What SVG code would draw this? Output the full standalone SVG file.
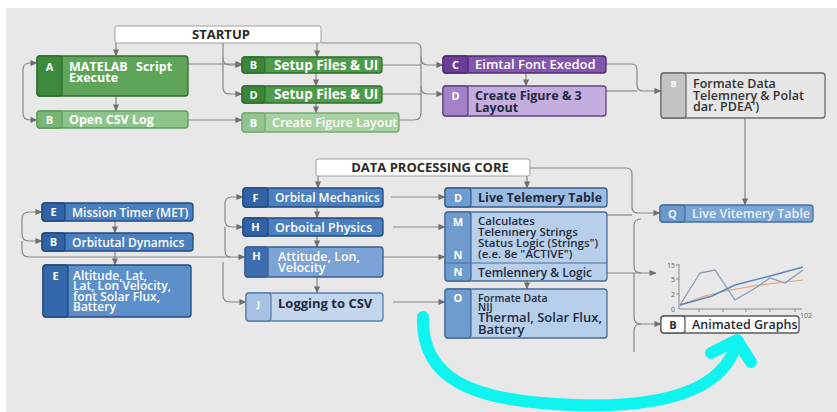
<svg xmlns="http://www.w3.org/2000/svg" width="837" height="412" viewBox="0 0 837 412">
<defs>
<marker id="ar" viewBox="0 0 8 8" refX="7.5" refY="4" markerWidth="7" markerHeight="7" markerUnits="userSpaceOnUse" orient="auto">
<path d="M0 0.5 L8 4 L0 7.5 Z" fill="#6f6f6f"/>
</marker>
<style>
text{font-family:"Open Sans","Liberation Sans",sans-serif;font-weight:600;font-size:12px}
.w{fill:#ffffff}
.d{fill:#1f2a3a}
.lt{fill:#e9f0fa}
.gt{font-size:12.5px;font-weight:700}
.bl{text-anchor:middle;font-weight:700;font-size:11px}
.hd{text-anchor:middle;font-weight:700;font-size:13px;fill:#2a2a2a}
.c path{fill:none;stroke:#878787;stroke-width:1.2}
.a{marker-end:url(#ar)}
.hdr{fill:#ffffff;stroke:#a0a0a0;stroke-width:1}
.g1 .body{fill:#5ea55a;stroke:#2f6e2e}.g1 .bdg{fill:#3e8a3d;stroke:#2f6e2e}
.g2 .body{fill:#8cc489;stroke:#5f9a5c}.g2 .bdg{fill:#79b676;stroke:#5f9a5c}
.g3 .body{fill:#4e9c4a;stroke:#2f6e2e}.g3 .bdg{fill:#3b8538;stroke:#2f6e2e}
.g4 .body{fill:#a6d2a2;stroke:#7aaa76}.g4 .bdg{fill:#93c68f;stroke:#7aaa76}
.p1 .body{fill:#8356ae;stroke:#4f2a74}.p1 .bdg{fill:#6a3d96;stroke:#4f2a74}
.p2 .body{fill:#c5ade0;stroke:#5e4580}.p2 .bdg{fill:#a582c8;stroke:#5e4580}
.gr .body{fill:#e6e6e6;stroke:#6e6e6e}.gr .bdg{fill:#c4c4c4;stroke:#6e6e6e}
.b1 .body{fill:#4a7fc0;stroke:#22497d}.b1 .bdg{fill:#2f62a6;stroke:#22497d}
.b2 .body{fill:#5d8fcb;stroke:#22497d}.b2 .bdg{fill:#3468ab;stroke:#22497d}
.b3 .body{fill:#7ba3d5;stroke:#3a5f8f}.b3 .bdg{fill:#3d6fb0;stroke:#3a5f8f}
.b4 .body{fill:#c3d6ee;stroke:#5a7fae}.b4 .bdg{fill:#a8c2e4;stroke:#5a7fae}
.b5 .body{fill:#9cbde3;stroke:#3a5f8f}.b5 .bdg{fill:#6b9bd0;stroke:#3a5f8f}
.b6 .body{fill:#b7cfea;stroke:#4a6d9a}.b6 .bdg{fill:#6f9ccf;stroke:#4a6d9a}
.b7 .body{fill:#7ba5d4;stroke:#48709f}.b7 .bdg{fill:#6b97cb;stroke:#48709f}
.wt .body{fill:#ffffff;stroke:#5a5a5a}.wt .bdg{fill:#ffffff;stroke:#5a5a5a}
.body,.bdg{stroke-width:1.3}
.ax{fill:none;stroke:#8a8a8a;stroke-width:1}
.tk{font-size:7px;font-weight:400;fill:#666;text-anchor:end}
</style>
</defs>
<rect x="0" y="0" width="837" height="412" fill="#ffffff"/>
<rect x="6" y="8" width="831" height="404" fill="#e8e8e8"/>

<g id="startup"><rect class="hdr" x="115" y="26" width="206" height="17" rx="2"/><text class="hd" x="221" y="39">STARTUP</text></g>
<g id="dpcore"><rect class="hdr" x="316" y="159" width="214" height="17" rx="2"/><text class="hd" x="430" y="172">DATA PROCESSING CORE</text></g>

<g class="c" id="connectors">
<path class="a" d="M116 43 V56"/>
<path class="a" d="M116 96 V111"/>
<path class="a" d="M23 91 V70 Q23 63 30 63 H37"/>
<path class="a" d="M23 91 V113 Q23 120 30 120 H37"/>
<path class="a" d="M223 43 V58 Q223 65 230 65 H242"/>
<path class="a" d="M223 58 V88 Q223 94 230 94 H242"/>
<path class="a" d="M188 64 H242"/>
<path class="a" d="M188 120 H242"/>
<path class="a" d="M317 43 V57"/>
<path class="a" d="M316 73 V86"/>
<path class="a" d="M316 103 V113"/>
<path d="M321 43 H415 Q421 43 421 49 V113 Q421 120 414 120 H399"/>
<path class="a" d="M421 58 Q421 65 428 65 H443"/>
<path class="a" d="M421 87 Q421 94 428 94 H443"/>
<path d="M382 65 H421"/>
<path d="M382 94 H421"/>
<path class="a" d="M526 73 V86"/>
<path class="a" d="M606 64 H631 Q637 64 637 70 V85 Q637 91 643 91 H661"/>
<path d="M606 91 H637"/>
<path class="a" d="M745 118 V205"/>
<path class="a" d="M318 176 V188"/>
<path class="a" d="M527 176 V188"/>
<path class="a" d="M530 168 H626 Q632 168 632 174 V207 Q632 213 638 213 H660"/>
<path d="M607 215 H632"/>
<path class="a" d="M317 207 V218"/>
<path class="a" d="M317 236 V247"/>
<path class="a" d="M317 277 V293"/>
<path class="a" d="M225 212 V204 Q225 197 232 197 H243"/>
<path class="a" d="M225 212 V220 Q225 227 232 227 H243"/>
<path d="M225 227 V250 Q225 257 230 257"/>
<path class="a" d="M223 262 V295 Q223 302 230 302 H246"/>
<path class="a" d="M22 227 V219 Q22 212 29 212 H42"/>
<path class="a" d="M22 227 V234 Q22 241 29 241 H42"/>
<path class="a" d="M22 241 V250 Q22 257 29 257 H245"/>
<path class="a" d="M115 221 V233"/>
<path class="a" d="M115 251 V265"/>
<path class="a" d="M391 197 H445"/>
<path class="a" d="M393 227 H445"/>
<path class="a" d="M383 257 H445"/>
<path class="a" d="M393 302 H445"/>
<path class="a" d="M527 281 V289"/>
<path class="a" d="M607 273 H656"/>
<path d="M641 219 Q634 219 634 226 V266 Q634 273 641 273"/>
<path class="a" d="M634 273 V317 Q634 324 641 324 H661"/>
<path d="M641 324 Q634 324 634 331 V352"/>
</g>

<g id="nA" class="g1"><rect class="body" x="37" y="56" width="151" height="40" rx="3"/><rect class="bdg" x="37" y="56" width="25" height="40" rx="3"/><text class="w bl" x="49.5" y="71">A</text><text class="w gt" x="69" y="71"><tspan x="69">MATELAB</tspan><tspan x="136">Script</tspan><tspan x="69" dy="11">Execute</tspan></text></g>
<g id="nB1" class="g2"><rect class="body" x="37" y="111" width="151" height="17" rx="3"/><rect class="bdg" x="37" y="111" width="25" height="17" rx="3"/><text class="w bl" x="49.5" y="123.5">B</text><text class="w gt" x="69" y="124">Open CSV Log</text></g>
<g id="nB2" class="g3"><rect class="body" x="242" y="57" width="140" height="16" rx="3"/><rect class="bdg" x="242" y="57" width="23" height="16" rx="3"/><text class="w bl" x="253.5" y="69">B</text><text class="w gt" x="274" y="69.5" style="font-size:13.5px">Setup Files &amp; UI</text></g>
<g id="nD1" class="g3"><rect class="body" x="242" y="86" width="140" height="17" rx="3"/><rect class="bdg" x="242" y="86" width="23" height="17" rx="3"/><text class="w bl" x="253.5" y="98.5">D</text><text class="w gt" x="274" y="99" style="font-size:13.5px">Setup Files &amp; UI</text></g>
<g id="nB3" class="g4"><rect class="body" x="242" y="113" width="157" height="19" rx="3"/><rect class="bdg" x="242" y="113" width="23" height="19" rx="3"/><text class="w bl" x="253.5" y="126.5">B</text><text class="w" x="272" y="127" style="font-size:12.5px">Create Figure Layout</text></g>
<g id="nC" class="p1"><rect class="body" x="443" y="56" width="163" height="17" rx="3"/><rect class="bdg" x="443" y="56" width="25" height="17" rx="3"/><text class="w bl" x="455.5" y="68.5">C</text><text class="w" x="475" y="69" style="font-size:13px">Eimtal Font Exedod</text></g>
<g id="nD2" class="p2"><rect class="body" x="443" y="86" width="163" height="30" rx="3"/><rect class="bdg" x="443" y="86" width="25" height="30" rx="3"/><text class="w bl" x="455.5" y="100">D</text><text class="d" x="475" y="100" style="font-size:12.5px;font-weight:700"><tspan x="475">Create Figure &amp; 3</tspan><tspan x="475" dy="11.5">Layout</tspan></text></g>
<g id="nGray" class="gr"><rect class="body" x="661" y="73" width="164" height="45" rx="3"/><rect class="bdg" x="661" y="73" width="25" height="45" rx="3"/><text class="w bl" x="673.5" y="87" style="font-size:9px">B</text><text x="693" y="88" style="fill:#333;font-size:12.5px"><tspan x="693">Formate Data</tspan><tspan x="693" dy="11.5">Telemnery &amp; Polat</tspan><tspan x="693" dy="11.5">dar. PDEA')</tspan></text></g>

<g id="nE1" class="b1"><rect class="body" x="42" y="203" width="151" height="18" rx="3"/><rect class="bdg" x="42" y="203" width="23" height="18" rx="3"/><text class="w bl" x="53.5" y="216">E</text><text class="w" x="72" y="216.5">Mission Timer (MET)</text></g>
<g id="nB4" class="b1"><rect class="body" x="42" y="233" width="151" height="18" rx="3"/><rect class="bdg" x="42" y="233" width="23" height="18" rx="3"/><text class="w bl" x="53.5" y="246">B</text><text class="w" x="72" y="246.5">Orbitutal Dynamics</text></g>
<g id="nE2" class="b2"><rect class="body" x="43" y="265" width="148" height="52" rx="3"/><rect class="bdg" x="43" y="265" width="25" height="52" rx="3"/><text class="w bl" x="55.5" y="280">E</text><text class="w" x="73" y="279.5" style="font-size:12px"><tspan x="73">Altitude, Lat,</tspan><tspan x="73" dy="10.5">Lat, Lon Velocity,</tspan><tspan x="73" dy="10.5">font Solar Flux,</tspan><tspan x="73" dy="10.5">Battery</tspan></text></g>

<g id="nF" class="b1"><rect class="body" x="243" y="188" width="140" height="19" rx="3"/><rect class="bdg" x="243" y="188" width="25" height="19" rx="3"/><text class="w bl" x="255.5" y="201.5">F</text><text class="w" x="275" y="202">Orbital Mechanics</text></g>
<g id="nH1" class="b1"><rect class="body" x="243" y="218" width="140" height="18" rx="3"/><rect class="bdg" x="243" y="218" width="25" height="18" rx="3"/><text class="w bl" x="255.5" y="231">H</text><text class="w" x="275" y="231.5" style="font-size:12.5px">Orboital Physics</text></g>
<g id="nH2" class="b3"><rect class="body" x="245" y="247" width="138" height="30" rx="3"/><rect class="bdg" x="245" y="247" width="23" height="30" rx="3"/><text class="w bl" x="256.5" y="260">H</text><text class="w" x="278" y="260.5" style="font-size:12.5px"><tspan x="278">Attitude, Lon,</tspan><tspan x="278" dy="11">Velocity</tspan></text></g>
<g id="nJ" class="b4"><rect class="body" x="246" y="293" width="137" height="28" rx="3"/><rect class="bdg" x="246" y="293" width="25" height="28" rx="3"/><text class="w bl" x="258.5" y="307" style="font-size:9px">J</text><text class="d" x="278" y="307.5" style="font-size:13px;font-weight:700">Logging to CSV</text></g>

<g id="nDlive" class="b5"><rect class="body" x="445" y="188" width="162" height="19" rx="3"/><rect class="bdg" x="445" y="188" width="26" height="19" rx="3"/><text class="w bl" x="458" y="201.5">D</text><text class="d" x="478" y="202" style="font-weight:700;font-size:12.5px">Live Telemery Table</text></g>
<g id="nMN" class="b6"><rect class="body" x="445" y="212" width="162" height="69" rx="3"/><rect class="bdg" x="445" y="212" width="26" height="69" rx="3"/><path d="M445 263 H607" stroke="#4a6d9a" stroke-width="1.2"/><text class="w bl" x="458" y="226">M</text><text class="w bl" x="458" y="259">N</text><text class="w bl" x="458" y="276">N</text><text class="d" x="478" y="225" style="font-size:11.5px"><tspan x="478">Calculates</tspan><tspan x="478" dy="11.2">Telenınery Strings</tspan><tspan x="478" dy="11.2">Status Logic (Strings")</tspan><tspan x="478" dy="10.6">(e.e. 8e "ACTIVE")</tspan></text><text class="d" x="478" y="276.5">Temlennery &amp; Logic</text></g>
<g id="nO" class="b6"><rect class="body" x="445" y="289" width="162" height="49" rx="3"/><rect class="bdg" x="445" y="289" width="26" height="49" rx="3"/><text class="w bl" x="458" y="302">O</text><text class="d" x="478" y="301.5" style="font-size:10.5px"><tspan x="478">Formate Data</tspan><tspan x="478" dy="9">NIJ</tspan><tspan x="478" dy="11.5" style="font-size:13px">Thermal, Solar Flux,</tspan><tspan x="478" dy="11.5" style="font-size:13px">Battery</tspan></text></g>
<g id="nQ" class="b7"><rect class="body" x="660" y="205" width="153" height="17" rx="3"/><rect class="bdg" x="660" y="205" width="25" height="17" rx="3"/><text class="lt bl" x="672.5" y="217.5">Q</text><text class="lt" x="692" y="218" style="font-size:12.5px">Live Vitemery Table</text></g>

<g id="chart">
<path class="ax" d="M679 264 V309 H802"/>
<path class="ax" d="M676 265 H679 M676 279 H679 M676 294 H679 M699 309 V312 M723 309 V312 M746 309 V312 M770 309 V312 M795 309 V312"/>
<text class="tk" x="675" y="267.5">15</text><text class="tk" x="675" y="281.5">5</text><text class="tk" x="675" y="296.5">2</text><text class="tk" x="675" y="311.5">0</text>
<text class="tk" x="812" y="318">102</text>
<polyline fill="none" stroke="#e9a06a" stroke-width="1.2" points="680,305 705,296 730,290 760,285 803,280"/>
<polyline fill="none" stroke="#8a9ab0" stroke-width="1.3" points="680,305 700,273 715,270 735,300 757,287 770,278 785,283 803,270"/>
<polyline fill="none" stroke="#5b88c0" stroke-width="1.4" points="680,305 712,296 735,285 770,276 803,267"/>
</g>
<g id="nAnim" class="wt"><rect class="body" x="661" y="316" width="138" height="17" rx="3"/><rect class="bdg" x="661" y="316" width="24" height="17" rx="3"/><text class="d bl" x="673" y="328.5">B</text><text class="d" x="692" y="329" style="font-size:12.5px">Animated Graphs</text></g>

<g id="cyan" fill="none" stroke="#0ff4ee" stroke-width="12" stroke-linecap="round" stroke-linejoin="round">
<path d="M423 317 C421 378 470 402 575 405 C665 408 722 390 736 345"/>
<path d="M711 353 L737 340 L751 362"/>
</g>
</svg>
